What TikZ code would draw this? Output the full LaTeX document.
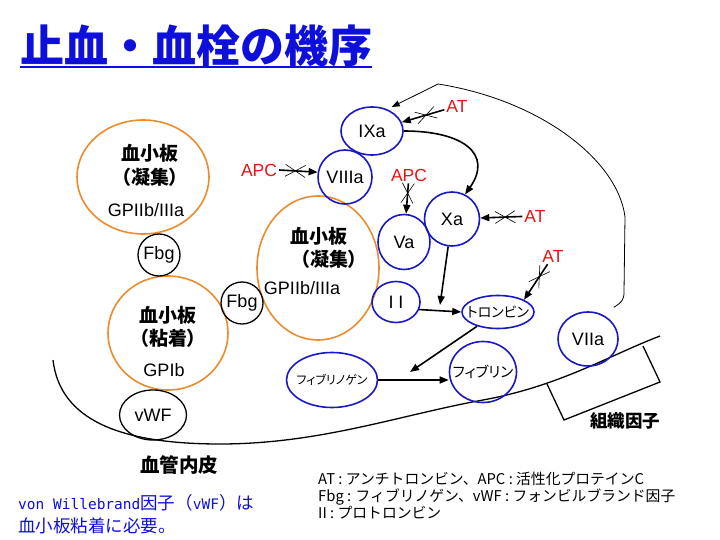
\documentclass[tikz,border=0pt]{standalone}
\usepackage{fontspec}
\setmainfont{Noto Sans CJK JP}[RawFeature=+palt]
\newfontfamily\titlefont{Noto Sans CJK JP}
\newfontfamily\latinfont{Liberation Sans}
\newfontfamily\monofont{DejaVu Sans Mono}
\usepackage{tikz}
\usetikzlibrary{arrows.meta,shapes.geometric,decorations.markings}

\definecolor{titleblue}{RGB}{15,15,220}
\definecolor{factorblue}{RGB}{25,25,195}
\definecolor{plateorange}{RGB}{235,140,45}
\definecolor{inhibred}{RGB}{230,20,20}

\newcommand{\fs}[1]{\fontsize{#1}{#1}\selectfont}
\newcommand{\lbl}[1]{\makebox[0pt]{#1}}

\begin{document}
\begin{tikzpicture}[x=1pt, y=-1pt,
  factor/.style={ellipse, draw=factorblue, line width=1.6pt, inner sep=0pt, font=\latinfont\fs{18}},
  kana/.style={ellipse, draw=factorblue, line width=1.6pt, inner sep=0pt},
  platelet/.style={ellipse, draw=plateorange, line width=1.6pt, inner sep=0pt},
  glue/.style={ellipse, draw=black, line width=1.3pt, inner sep=0pt, font=\latinfont\fs{18}},
  pltxt/.style={font=\bfseries\fs{19}, inner sep=0pt},
  gptxt/.style={font=\latinfont\fs{18}, inner sep=0pt},
  inhib/.style={text=inhibred, font=\latinfont\fs{17.5}, inner sep=2pt},
  act/.style={-{Triangle[length=9pt,width=7pt]}, line width=1.6pt},
  block/.style={act, postaction={decorate},
    decoration={markings, mark=at position #1 with {\draw[-, line width=0.6pt] (-10pt,-6pt) -- (10pt,6pt) (-10pt,6pt) -- (10pt,-6pt);}}},
  block/.default=0.4]
  \fill[white] (0,0) rectangle (720,540);
  \useasboundingbox (0,0) rectangle (720,540);

  % title
  \node[font=\titlefont\bfseries\fs{44}, text=titleblue, inner sep=0pt] (title) at (196,46) {止血・血栓の機序};
  \draw[titleblue, line width=2pt] (title.south west) -- (title.south east);

  % vessel wall and tissue factor
  \draw[line width=1.3pt] (53,360) .. controls (60,420) and (120,444) .. (220,444)
    .. controls (320,444) and (400,415) .. (483,400)
    .. controls (560,386) and (610,355) .. (660,336);
  \draw[line width=1.3pt] (547,384) -- (564,420) -- (660,382) -- (643,346);
  \node[font=\bfseries\fs{17.5}] (tf) at (625,421) {組織因子};
  \node[font=\bfseries\fs{19.5}] (endo) at (179,465) {血管内皮};

  % platelets
  \node[platelet, minimum width=132pt, minimum height=114pt] (plt1) at (143,177) {};
  \node[pltxt] (plt1a) at (150,153) {血小板};
  \node[pltxt] (plt1b) at (150,177) {（凝集）};
  \node[gptxt] (plt1c) at (146,210) {GPIIb/IIIa};
  \node[platelet, minimum width=120pt, minimum height=114pt] (plt2) at (168,333) {};
  \node[pltxt] (plt2a) at (168,315) {血小板};
  \node[pltxt] (plt2b) at (168,338) {（粘着）};
  \node[gptxt] (plt2c) at (164,370) {GPIb};
  \node[platelet, minimum width=122pt, minimum height=144pt] (plt3) at (318,268) {};
  \node[pltxt] (plt3a) at (319,236) {血小板};
  \node[pltxt] (plt3b) at (329,259) {（凝集）};
  \node[gptxt] (plt3c) at (302,288) {GPIIb/IIIa};

  \node[glue, minimum size=42pt] (fbg1) at (159,255) {\lbl{Fbg}};
  \node[glue, minimum size=42pt] (fbg2) at (242,303) {\lbl{Fbg}};
  \node[glue, minimum width=67pt, minimum height=50pt] (vwf) at (153,415) {\lbl{vWF}};

  % coagulation factors
  \node[factor, minimum width=62pt, minimum height=48pt] (ixa) at (372,131) {\lbl{IXa}};
  \node[factor, minimum size=54pt] (viiia) at (345,177) {\lbl{VIIIa}};
  \node[factor, minimum width=52pt, minimum height=55pt] (va) at (404,242) {\lbl{Va}};
  \node[factor, minimum width=55pt, minimum height=54pt] (xa) at (452,219) {\lbl{Xa}};
  \node[factor, minimum width=48pt, minimum height=41pt] (ii) at (396,302) {\lbl{I I}};
  \node[kana, minimum width=72pt, minimum height=33pt, font=\fs{14}] (thr) at (498,312) {\lbl{トロンビン}};
  \node[factor, minimum width=60pt, minimum height=54pt] (viia) at (588,339) {\lbl{VIIa}};
  \node[kana, minimum width=67pt, minimum height=61pt, font=\fs{14.5}] (fib) at (483,372) {\lbl{フィブリン}};
  \node[kana, minimum width=91pt, minimum height=55pt, font=\fs{12}] (fbn) at (332,380) {\lbl{フィブリノゲン}};
  \coordinate (xaend) at (440,305);
  \coordinate (thrend) at (410,372);

  % inhibitors
  \node[inhib] (at1) at (457,106) {AT};
  \node[inhib] (apc1) at (259,170) {APC};
  \node[inhib] (apc2) at (409,175) {APC};
  \node[inhib] (at2) at (535,216) {AT};
  \node[inhib] (at3) at (553,256) {AT};

  \draw[block=0.43] (at1) -- (ixa);
  \draw[block=0.42] (apc1.east) -- (viiia.170);
  \draw[block=0.32] (apc2) -- (va);
  \draw[block=0.41] (at2) -- (xa);
  \draw[block=0.35] (at3) -- (thr.north east);

  % activation
  \draw[act] (ixa.east) .. controls +(60,0) and +(28,-40) .. (xa.62);
  \draw[act] (xa) -- (xaend);
  \draw[act] (ii.-18) -- (thr.west);
  \draw[act] (thr) -- (thrend);
  \draw[act] (fbn.east) -- (fbn.east -| fib.west);
  \draw[line width=0.8pt, -{Triangle[length=8pt,width=6pt]}, shorten >=5pt]
    ([shift={(4,-12)}]viia.north east) .. controls +(8,-5) and +(0,8) .. (624,292)
    -- (625,217) .. controls (618,160) and (540,100) .. (438,84) -- (ixa.55);

  % notes
  \node[anchor=west, align=left, inner sep=0pt, text=titleblue, font=\titlefont\fontsize{17.5}{23}\selectfont] (note) at (18,514)
    {{\monofont\fs{14.5}von Willebrand}因子（{\monofont\fs{14.5}vWF}）は\\血小板粘着に必要。};
  \node[anchor=north west, align=left, inner sep=0pt, font=\titlefont\fontsize{14.8}{16.8}\selectfont] (legend) at (318,472)
    {AT : アンチトロンビン、APC : 活性化プロテインC\\Fbg : フィブリノゲン、vWF : フォンビルブランド因子\\II : プロトロンビン};
\end{tikzpicture}
\end{document}
